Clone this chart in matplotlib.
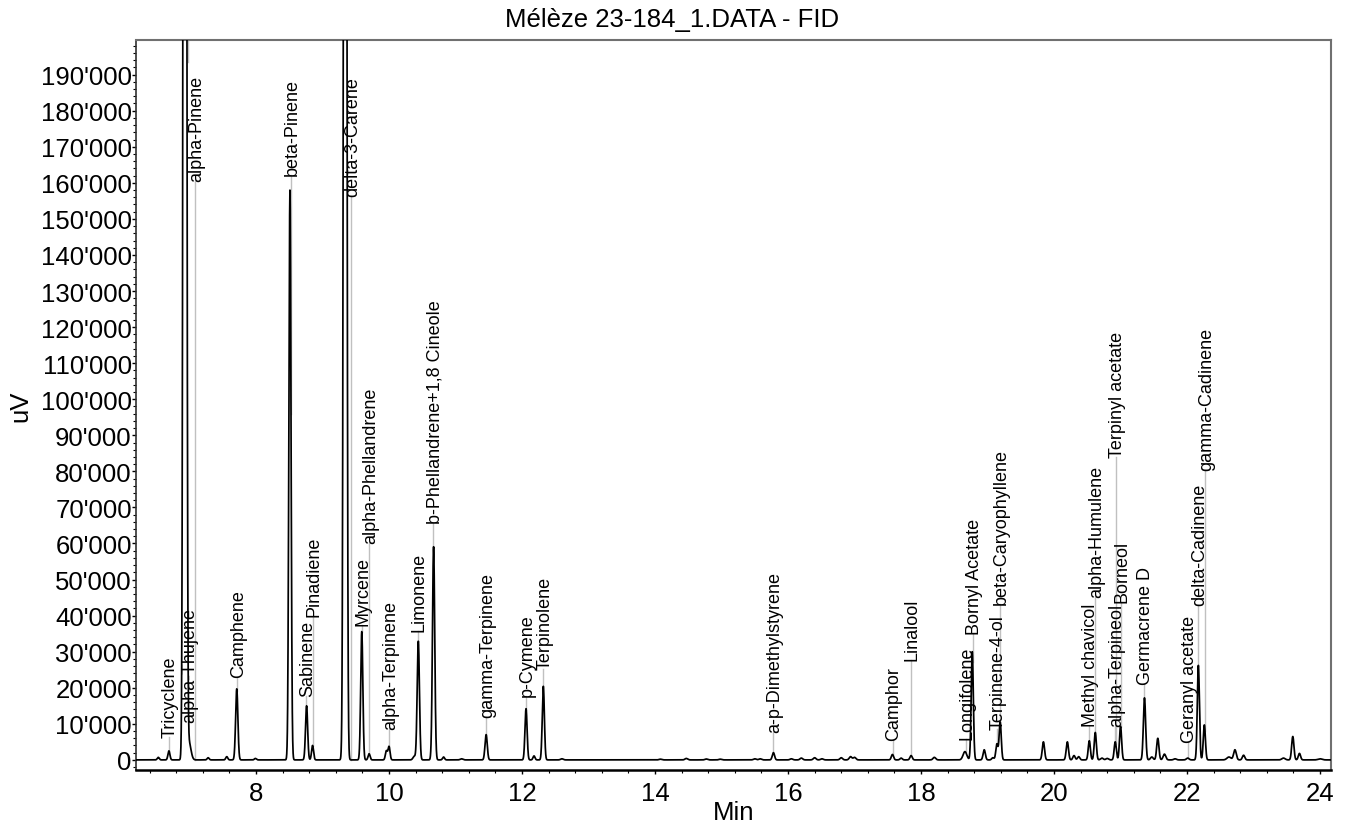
import numpy as np
import matplotlib
matplotlib.use("Agg")
import matplotlib.pyplot as plt
from matplotlib.ticker import MultipleLocator, FuncFormatter

plt.rcParams['font.family'] = ['Liberation Sans', 'DejaVu Sans']

# Peak table: retention time (min), height (uV), width (min)
peak_times = [6.53, 6.69, 6.93, 6.99, 7.28, 7.56, 7.71, 7.99, 8.51, 8.76, 8.85, 9.34,
              9.59, 9.70, 9.96, 10.00, 10.38, 10.44, 10.67, 10.82, 11.09, 11.46, 12.06,
              12.18, 12.32, 12.60, 14.08, 14.47, 14.77, 14.98, 15.50, 15.58, 15.78, 16.05,
              16.20, 16.40, 16.51, 16.80, 16.94, 17.00, 17.57, 17.70, 17.85, 18.20, 18.66,
              18.77, 18.95, 19.08, 19.14, 19.19, 19.84, 20.20, 20.30, 20.37, 20.53, 20.62,
              20.72, 20.80, 20.92, 21.00, 21.36, 21.47, 21.56, 21.66, 21.82, 22.01, 22.17,
              22.26, 22.63, 22.72, 22.85, 23.45, 23.59, 23.69, 24.00]
peak_heights = [700, 2500, 900000, 5000, 600, 900, 19700, 400, 158000, 15000, 4000, 700000,
                35600, 1700, 2500, 3700, 1000, 32900, 59100, 800, 300, 7000, 14200,
                1100, 20400, 300, 200, 400, 250, 200, 300, 300, 2000, 300,
                500, 600, 300, 600, 900, 700, 1500, 500, 1200, 700, 2300,
                30000, 2800, 600, 4400, 10500, 5000, 5000, 1200, 900, 5300, 7600,
                500, 400, 5000, 9300, 17200, 800, 6000, 1600, 300, 500, 26200,
                9700, 800, 2800, 1300, 500, 6500, 1800, 300]
peak_widths = [0.015, 0.015, 0.018, 0.03, 0.015, 0.015, 0.017, 0.015, 0.016, 0.016, 0.015, 0.018,
               0.016, 0.015, 0.015, 0.015, 0.02, 0.017, 0.017, 0.015, 0.02, 0.017, 0.016,
               0.015, 0.016, 0.02, 0.02, 0.02, 0.02, 0.02, 0.02, 0.02, 0.017, 0.02,
               0.02, 0.02, 0.02, 0.02, 0.02, 0.02, 0.017, 0.017, 0.017, 0.02, 0.028,
               0.016, 0.017, 0.017, 0.016, 0.016, 0.017, 0.017, 0.017, 0.017, 0.016, 0.016,
               0.02, 0.02, 0.016, 0.016, 0.017, 0.02, 0.017, 0.02, 0.02, 0.02, 0.016,
               0.016, 0.03, 0.02, 0.018, 0.025, 0.017, 0.017, 0.03]

# Peak annotations: name, time of the marker line (min), bottom of the text (uV)
label_names = ['Tricyclene', 'alpha-Pinene', 'alpha-Thujene', 'Camphene', 'beta-Pinene',
               'Sabinene', 'Pinadiene', 'delta-3-Carene', 'Myrcene', 'alpha-Phellandrene',
               'alpha-Terpinene', 'Limonene', 'b-Phellandrene+1,8 Cineole', 'gamma-Terpinene',
               'p-Cymene', 'Terpinolene', 'a-p-Dimethylstyrene', 'Camphor', 'Linalool',
               'Longifolene', 'Bornyl Acetate', 'Terpinene-4-ol', 'beta-Caryophyllene',
               'Methyl chavicol', 'alpha-Humulene', 'alpha-Terpineol', 'Borneol',
               'Terpinyl acetate', 'Germacrene D', 'Geranyl acetate', 'delta-Cadinene',
               'gamma-Cadinene']
label_times = [6.692, 7.083, 6.977, 7.714, 8.526, 8.756, 8.853, 9.429, 9.589, 9.699,
               10.005, 10.436, 10.666, 11.463, 12.056, 12.32, 15.779, 17.574, 17.85,
               18.672, 18.777, 19.138, 19.188, 20.531, 20.617, 20.917, 21.003, 20.928,
               21.358, 22.01, 22.17, 22.27]
label_bottoms = [6400, 160600, 10600, 23100, 162200, 17800, 40000, 156400, 37500, 60000,
                 8600, 35800, 65600, 11900, 17800, 25300, 7700, 5400, 27600,
                 5800, 35000, 8600, 43300, 9500, 45200, 9500, 43800, 84100,
                 21100, 4900, 42900, 80400]

X_RANGE = (6.195, 24.16)
Y_RANGE = (-2800, 199600)

t = np.linspace(X_RANGE[0], X_RANGE[1], 12000)
signal = np.zeros_like(t)
for t0, h, w in zip(peak_times, peak_heights, peak_widths):
    signal += h * np.exp(-0.5 * ((t - t0) / w) ** 2)

fig = plt.figure(figsize=(13.45, 8.28), dpi=100)
ax = fig.add_axes([136 / 1345, 1 - 771 / 828, (1330.7 - 136) / 1345, (771 - 41) / 828])

ax.plot(t, signal, color='black', lw=1.25, zorder=3)

# annotation lines and names
for name, lt, lb in zip(label_names, label_times, label_bottoms):
    top = np.interp(lt, t, signal)
    if top > lb:
        ax.plot([lt, lt], [Y_RANGE[1], Y_RANGE[1] - 6000], color='#c0c0c0', lw=1, zorder=2)
    else:
        ax.plot([lt, lt], [top, lb], color='#c0c0c0', lw=1, zorder=2)
    ax.text(lt + 0.02, lb, name, rotation=90, ha='center', va='bottom', fontsize=13, zorder=4)

ax.set_xlim(*X_RANGE)
ax.set_ylim(*Y_RANGE)

ax.xaxis.set_major_locator(MultipleLocator(2))
ax.xaxis.set_minor_locator(MultipleLocator(0.4))
ax.yaxis.set_major_locator(MultipleLocator(10000))
ax.yaxis.set_minor_locator(MultipleLocator(2000))
ax.yaxis.set_major_formatter(FuncFormatter(lambda v, p: f"{int(v):,}".replace(',', "'")))
ax.tick_params(axis='both', which='major', labelsize=18.5, length=3, width=1, direction='out')
ax.tick_params(axis='y', which='major', pad=0)
ax.tick_params(axis='x', which='major', pad=5)
ax.tick_params(axis='both', which='minor', length=2.5, width=0.8, direction='out')

for side in ['top', 'right']:
    ax.spines[side].set_color('#707070')
    ax.spines[side].set_linewidth(1.5)
ax.spines['left'].set_color('#303030')
ax.spines['left'].set_linewidth(1.2)
ax.spines['bottom'].set_color('black')
ax.spines['bottom'].set_linewidth(1.8)

ax.set_xlabel('Min', fontsize=18.5, labelpad=-4)
ax.set_ylabel('uV', fontsize=18.5, labelpad=6)
fig.text(0.5, 1 - 20 / 828, 'Mélèze 23-184_1.DATA - FID', ha='center', va='center', fontsize=18.5)

fig.savefig('out.png', dpi=100)
